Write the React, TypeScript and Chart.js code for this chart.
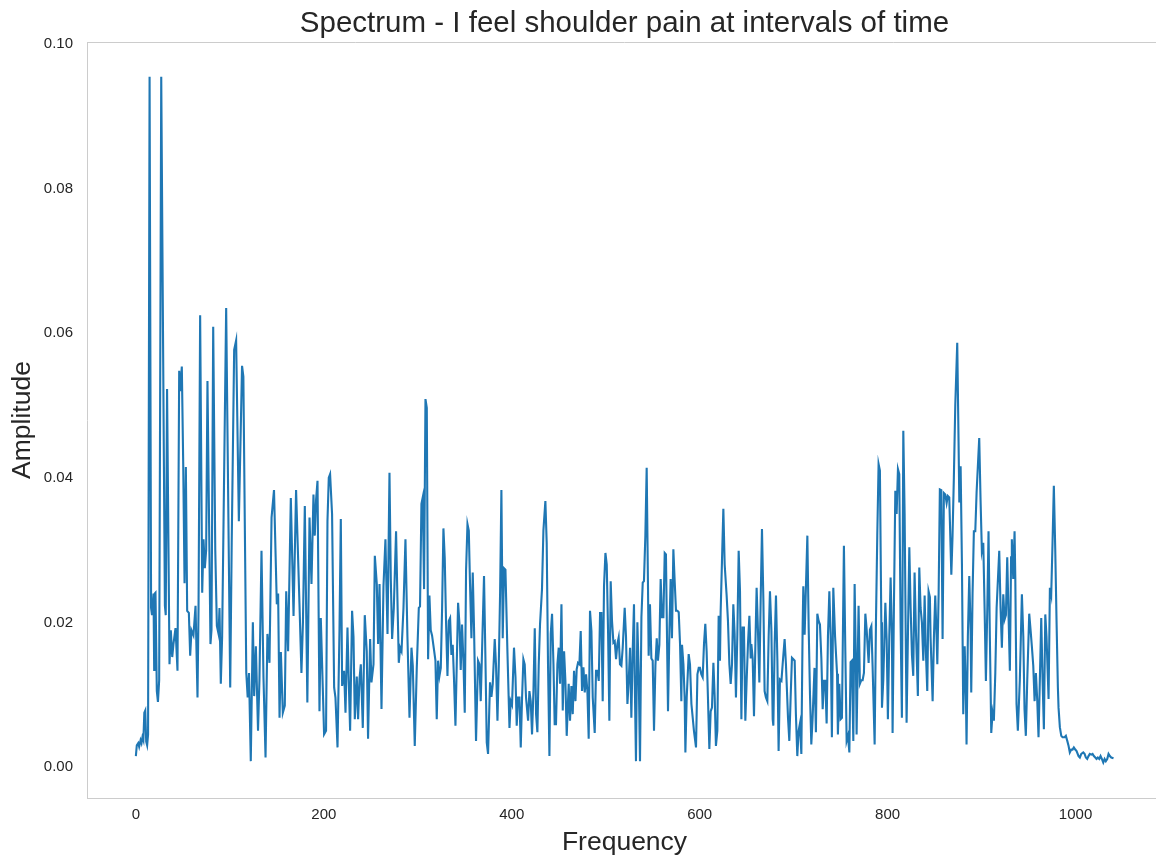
import React, { useEffect, useRef } from "react";
import { Chart, registerables } from "chart.js";

Chart.register(...registerables);

const chartTitle = "Spectrum - I feel shoulder pain at intervals of time";
const xAxisLabel = "Frequency";
const yAxisLabel = "Amplitude";
const xTickValues = [0, 200, 400, 600, 800, 1000];
const yTickValues = [0, 0.02, 0.04, 0.06, 0.08, 0.1];

// Frequency bins of the spectrum
const freq = [
  0, 1, 2.5, 3.5, 5, 6, 7, 8, 9, 10,
  11, 12, 13, 14.6, 16.2, 17.2, 18.8, 19.5, 20.2, 20.9,
  22.3, 23.5, 24.8, 27, 30.9, 31.8, 33.2, 35.8, 37.2, 38.7,
  40, 42.2, 44.3, 46.1, 47.2, 48.9, 50.4, 51.8, 53.2, 54.6,
  56.4, 57.8, 59.2, 61.3, 63.5, 65.6, 66.7, 68.4, 70.6, 72,
  73.4, 74.8, 76.2, 79.4, 80.5, 82.3, 84.5, 86.2, 88, 89,
  90.4, 91.8, 96.1, 100.4, 102, 104.6, 106.7, 109.6, 113, 114.4,
  117.5, 119, 120.4, 122.3,
  124.5, 125.9, 127.7, 130, 131.5, 133.7, 135.8, 138, 140, 142.2,
  144.4, 147, 150, 151.4, 152.9, 154.3, 156.4, 158.5, 160, 162,
  164.9, 167.8, 170.5, 174.1, 176.2, 177.8, 179.8, 182.5,
  184.8, 186.9, 189, 190.4, 191.8, 193.3, 195.4, 196.8, 198.9, 200.3,
  202.4, 203.9, 205.3, 206.7, 208.8, 211, 212.4, 214.6, 216.7, 218.1,
  219.5, 221.6, 223.1, 225.2, 226.6, 228, 230.1, 231.6, 233, 235.1,
  236.5, 238, 239.4, 241.5, 243.6, 245.7, 247.1, 249.3, 250.7, 252.9,
  254.3, 256.4, 257.8, 259.3, 261.4, 263.5, 265.6, 267.8, 269.9, 271.3,
  272.7, 274.5,
  276.9, 278.4, 279.8, 281.2, 282.7, 284.8, 286.9, 289, 291.2, 293.3,
  294.7, 296.8, 298.9, 301.1, 302.4, 303.9, 305.3, 306.7, 308.2, 309.6,
  311, 312.4, 313.8, 315.2, 317.4, 318.8, 320.2, 321.6, 323.1, 324.5,
  325.9, 327.3, 328.7, 330.1, 331.6, 333, 334.4, 335.8, 337.2, 338.6,
  340.1, 341.5, 342.9, 344.4, 345.7, 347.1, 348.6, 350, 351.4, 352.9,
  354.3, 355.6, 357.1, 358.5, 359.9, 362, 364.1, 365.6, 367, 368.8,
  370.5, 372, 373.4, 374.8, 376.9, 378.4, 379.8, 381.9, 383.3, 384.8,
  386.2, 387.6, 389, 390.4, 391.8, 393.3, 395.4, 397.6, 398.9, 400.3,
  402.4, 404, 405.3, 406.7, 408.2, 409.6, 411, 412.4, 413.8, 415.2,
  417.4, 418.8, 420.2, 421.6, 423.1, 424.5, 425.9, 427.3, 428.7, 430.1,
  432.2, 433.7, 435.8, 437.2, 438.6, 440.1, 441.5, 442.9, 444.4, 445.7,
  447.1, 448.6, 450, 451.4, 452.9, 454.3, 455.7, 457.1, 458.5,
  460.6, 462, 463.5, 464.9, 466.3, 467.8, 469.1, 470.5, 472, 473.4,
  474.8, 476.3, 477.7, 479.1, 480.5, 481.9, 483.3, 484.8, 486.2, 488.3,
  489.7, 491.2, 492.6, 494, 495.4, 496.8, 498.2, 499.7, 501.1, 502.5,
  503.9, 505.3, 506.7, 508.2, 509.6, 511, 512.4, 513.8, 515.2, 516.7,
  518.1, 520.2, 521.6, 523.1, 524.5, 525.9, 527.3, 528.7, 530.1, 530.9,
  532.2, 533.7, 535.1, 536.5, 538, 539.4, 540.7, 542.2, 543.6, 545,
  545.7, 547.1, 548.6, 550, 551.4, 552.9, 554.3,
  555.6, 557.1, 558.5, 559.9, 561.4, 562.8, 564.1, 565.6, 566.3, 567.8,
  569.1, 570.5, 572, 573.4, 574.8, 576.3, 577.7, 579.1, 580.5, 581.2,
  582.7, 584, 584.8, 586.2, 588.3, 589.7, 591.2, 592.6, 593.9, 596.1,
  597.6, 599, 600.3, 601.8, 603.2, 604.6, 606, 607.4, 608.8, 610.3,
  611.7, 613.1, 614.6, 616, 617.3, 618.8, 620.2, 621.6, 622.3, 623.7,
  625.2, 626.6, 628.7, 630.1, 631.6, 633, 634.4, 635.8, 637.2, 638.6,
  640.1, 641.5, 642.9, 644.4, 645.7, 647.1, 648.6,
  650, 651.4, 652.9, 654.3, 655, 656.4, 657.8, 659.3, 660.6, 662,
  663.5, 664.9, 666.3, 667.8, 669.1, 670.5, 672, 673.4, 674.8, 676.3,
  677.7, 678.4, 679.8, 681.2, 682.7, 684, 685.4, 687, 688.3, 690.4,
  691.8, 694, 695.4, 696.8, 698.2, 699.7, 701.1, 702.4, 703.9, 705.3,
  706.7, 708.2, 709.6, 710.3, 711.7, 713.1, 714.6, 716, 717.4, 718.8,
  720.2, 722.2, 723.7, 725.2, 726.6, 728, 729.5, 730.9, 732.2, 733.7,
  735.1, 736.5, 738, 739.4, 740.7, 742.2,
  744.1, 746.2, 747.1, 748.6, 750, 751.4, 753.5, 755, 756.4, 757.8,
  759.3, 760.6, 762, 763.5, 764.9, 766.3, 767, 769.1, 770.5, 772,
  773.4, 774.8, 776.3, 777.7, 779.8, 781.2, 782.7, 784, 786.2, 787.6,
  789, 790.4, 791.8, 793.3, 794, 795.4, 797.6, 799, 800.3, 801.8,
  803.2, 804.6, 805.3, 806.7, 808.2, 809.6, 811, 812.4, 813.8, 815.2,
  816.7, 818.1, 819.5, 820.2, 821.6, 823.1, 824.5, 825.9, 827.3, 828.7,
  830.1, 832.2, 833.7, 835.1,
  836.5, 838, 839.4, 840.7, 842.2, 843.6, 845, 845.7, 847.9, 849.3,
  850.7, 852.1, 852.9, 854.3, 855.6, 857.1, 858.5, 859.9, 861.4, 862.8,
  864.1, 865.6, 867.8, 869.1, 870.5, 872, 874.1, 875.5, 876.3, 877.7,
  879.1, 880.5, 882, 883.3, 884, 885.4, 886.9, 888.3, 889, 890.4,
  891.8, 893.3, 894.7, 897.5, 898.9, 900.3, 901.8, 903.2, 904.6, 906.1,
  907.4, 908.8, 910.3, 911.7, 913.1, 914.6, 916, 918.8, 920.2, 921.6,
  923.1, 924.5, 925.9, 927.3, 928.7,
  930.1, 931.4, 932.2, 933.7, 935.1, 935.9, 937.2, 938.6, 940.7, 942.9,
  944.4, 945.7, 947.1, 948.6, 950.7, 952.1, 953.5, 955, 956.4, 957.8,
  959.3, 960.6, 962, 963.5, 964.9, 966.3, 967.8, 969.1, 971.3, 972.7,
  974.1, 975.5, 976.9, 978.4, 979.8, 981.2, 981.9, 983.3, 984.8, 986.2,
  988.3, 989.7, 991.2, 992.6, 993.9, 995.4, 996.8, 998.2, 999.7, 1001.1,
  1003.2, 1004.6, 1006.1, 1008.2, 1009.6, 1011, 1012.4, 1013.8, 1015.2, 1016.7,
  1018.1, 1019.5, 1021, 1022.3, 1023.7, 1025.2, 1026.6, 1028, 1029.5, 1030.9,
  1032.2, 1033.7, 1035.1, 1036.5, 1038, 1040.4,
];

// Spectral amplitude at each frequency bin
const amp = [
  0.0015, 0.003, 0.0033, 0.0028, 0.0037, 0.0033, 0.0041, 0.0037, 0.0075, 0.0078,
  0.0035, 0.003, 0.0045, 0.0955, 0.022, 0.021, 0.024, 0.0134, 0.024, 0.0241,
  0.0105, 0.009, 0.012, 0.0955, 0.0223, 0.021, 0.0523, 0.0142, 0.0189, 0.0152,
  0.017, 0.0192, 0.0133, 0.0548, 0.052, 0.0554, 0.0418, 0.0254, 0.0415, 0.0216,
  0.0213, 0.0154, 0.0189, 0.0182, 0.0223, 0.0096, 0.022, 0.0625, 0.0241, 0.0315,
  0.0275, 0.03, 0.0534, 0.017, 0.019, 0.0609, 0.03, 0.0195, 0.0184, 0.022,
  0.0115, 0.018, 0.0635, 0.011, 0.031, 0.0577, 0.059, 0.034, 0.0555, 0.054,
  0.013, 0.0096, 0.013, 0.0008,
  0.02, 0.0098, 0.0167, 0.005, 0.012, 0.0299, 0.0124, 0.0013, 0.0184, 0.0144,
  0.0345, 0.0383, 0.0225, 0.024, 0.0068, 0.0159, 0.0075, 0.0085, 0.0243, 0.016,
  0.0372, 0.0209, 0.0383, 0.0226, 0.013, 0.02, 0.0361, 0.0089,
  0.0345, 0.0253, 0.0377, 0.032, 0.037, 0.0396, 0.0077, 0.0206, 0.011, 0.0045,
  0.005, 0.034, 0.04, 0.0405, 0.035, 0.011, 0.0096, 0.0027, 0.019, 0.0343,
  0.0112, 0.0133, 0.0075, 0.0193, 0.0117, 0.005, 0.0216, 0.018, 0.0066, 0.0125,
  0.0066, 0.0122, 0.0142, 0.0054, 0.021, 0.016, 0.0039, 0.0177, 0.0117, 0.0142,
  0.0292, 0.0253, 0.017, 0.0253, 0.008, 0.025, 0.0315, 0.0184, 0.0407, 0.026,
  0.0177, 0.022,
  0.0326, 0.023, 0.0144, 0.0165, 0.016, 0.022, 0.0315, 0.018, 0.0068, 0.0165,
  0.014, 0.0029, 0.0135, 0.022, 0.0222, 0.0364, 0.0373, 0.0246, 0.0509, 0.0497,
  0.0149, 0.0237, 0.0189, 0.0182, 0.0161, 0.0147, 0.0066, 0.0147, 0.0126, 0.0137,
  0.022, 0.033, 0.0289, 0.02, 0.0126, 0.0202, 0.0206, 0.0155, 0.0169, 0.012,
  0.0057, 0.0143, 0.0227, 0.0197, 0.0134, 0.0197, 0.0146, 0.0075, 0.0272, 0.0336,
  0.0327, 0.0253, 0.0178, 0.0269, 0.019, 0.0036, 0.0147, 0.0142, 0.0091, 0.018,
  0.0264, 0.015, 0.0034, 0.0018, 0.0117, 0.0097, 0.0115, 0.0177, 0.014, 0.0064,
  0.014, 0.024, 0.0383, 0.0178, 0.0275, 0.0273, 0.016, 0.0054, 0.0091, 0.0086,
  0.0165, 0.0124, 0.0057, 0.0096, 0.0096, 0.0027, 0.0096, 0.0149, 0.0142, 0.0096,
  0.0064, 0.0105, 0.0091, 0.0045, 0.0105, 0.0192, 0.0073, 0.0048, 0.014, 0.0197,
  0.0246, 0.0327, 0.0368, 0.031, 0.0143, 0.0015, 0.0184, 0.0212, 0.0142, 0.0059,
  0.0059, 0.0142, 0.0165, 0.0115, 0.0225, 0.0078, 0.016, 0.0119, 0.0043,
  0.0115, 0.0064, 0.0112, 0.0073, 0.0133, 0.0091, 0.0135, 0.0144, 0.0142, 0.0188,
  0.0105, 0.0138, 0.0103, 0.0128, 0.0105, 0.0039, 0.0216, 0.0188, 0.0096, 0.0047,
  0.0133, 0.0133, 0.0119, 0.0213, 0.0213, 0.0091, 0.025, 0.0296, 0.028, 0.0188,
  0.0064, 0.0257, 0.0202, 0.0172, 0.0174, 0.0149, 0.017, 0.0179, 0.0142, 0.014,
  0.0165, 0.022, 0.018, 0.0087, 0.0119, 0.0165, 0.0068, 0.016, 0.0225, 0.012,
  0.0008, 0.02, 0.013, 0.0008, 0.0207, 0.0255, 0.0257, 0.032, 0.0414, 0.025,
  0.0154, 0.0225, 0.015, 0.0147, 0.005, 0.014, 0.0178,
  0.0147, 0.0169, 0.026, 0.0207, 0.0207, 0.0296, 0.0294, 0.0144, 0.0077, 0.0188,
  0.026, 0.0178, 0.0301, 0.0257, 0.0216, 0.0216, 0.0214, 0.017, 0.0091, 0.0169,
  0.0142, 0.0096, 0.002, 0.0096, 0.0156, 0.0142, 0.0087, 0.0068, 0.005, 0.0027,
  0.0128, 0.0137, 0.0137, 0.0128, 0.0124, 0.017, 0.0198, 0.016, 0.0096, 0.0025,
  0.0077, 0.0082, 0.0144, 0.0096, 0.0029, 0.005, 0.0209, 0.0147, 0.0214, 0.0283,
  0.0357, 0.028, 0.0237, 0.0202, 0.0142, 0.0115, 0.0142, 0.0225, 0.0184, 0.0096,
  0.0184, 0.0299, 0.0244, 0.0066, 0.0193, 0.0193, 0.0064,
  0.012, 0.017, 0.0209, 0.015, 0.017, 0.015, 0.007, 0.017, 0.0248, 0.019,
  0.0117, 0.023, 0.0329, 0.023, 0.0105, 0.0096, 0.0091, 0.018, 0.0243, 0.019,
  0.0066, 0.0057, 0.017, 0.0237, 0.0147, 0.0022, 0.0121, 0.0119, 0.0142, 0.0177,
  0.0142, 0.0068, 0.0036, 0.0096, 0.0151, 0.0149, 0.0147, 0.0073, 0.0015, 0.005,
  0.006, 0.0018, 0.0197, 0.025, 0.0183, 0.025, 0.032, 0.0193, 0.01, 0.0031,
  0.0068, 0.0137, 0.0048, 0.0212, 0.0202, 0.0197, 0.015, 0.008, 0.0119, 0.0119,
  0.006, 0.018, 0.0243, 0.018, 0.0041, 0.0248,
  0.018, 0.0129, 0.0045, 0.0115, 0.0066, 0.0068, 0.0306, 0.016, 0.0036, 0.0043,
  0.002, 0.0145, 0.0147, 0.0036, 0.0253, 0.014, 0.0045, 0.0223, 0.0115, 0.012,
  0.012, 0.013, 0.0212, 0.019, 0.0144, 0.019, 0.0195, 0.014, 0.0031, 0.02,
  0.032, 0.0419, 0.041, 0.02, 0.0082, 0.012, 0.0227, 0.0175, 0.0066, 0.018,
  0.0262, 0.018, 0.0047, 0.022, 0.0382, 0.035, 0.0412, 0.0405, 0.02, 0.0068,
  0.0465, 0.035, 0.015, 0.0061, 0.018, 0.0304, 0.022, 0.0155, 0.0126, 0.0269,
  0.019, 0.0098, 0.0276, 0.022,
  0.02, 0.0147, 0.0237, 0.016, 0.0105, 0.0243, 0.0235, 0.018, 0.0091, 0.018,
  0.0237, 0.018, 0.0142, 0.024, 0.0384, 0.0383, 0.0177, 0.0379, 0.0377, 0.0365,
  0.0375, 0.0373, 0.0266, 0.032, 0.04, 0.05, 0.0587, 0.045, 0.0366, 0.0416,
  0.028, 0.0073, 0.0167, 0.01, 0.0031, 0.018, 0.0264, 0.019, 0.0103, 0.024,
  0.0326, 0.0326, 0.038, 0.0455, 0.037, 0.0299, 0.031, 0.022, 0.0119, 0.022,
  0.0326, 0.018, 0.0047, 0.0075, 0.0064, 0.013, 0.022, 0.0299, 0.022, 0.0165,
  0.0239, 0.0204, 0.021, 0.029, 0.021,
  0.0133, 0.029, 0.0315, 0.026, 0.0326, 0.026, 0.0087, 0.005, 0.012, 0.0239,
  0.018, 0.008, 0.0043, 0.012, 0.0212, 0.019, 0.0167, 0.014, 0.0091, 0.013,
  0.009, 0.0041, 0.012, 0.0206, 0.012, 0.0052, 0.0211, 0.018, 0.0094, 0.0248,
  0.0238, 0.031, 0.0389, 0.03, 0.02, 0.011, 0.0082, 0.0055, 0.0043, 0.0041,
  0.0041, 0.0043, 0.0036, 0.0029, 0.002, 0.0024, 0.0024, 0.0027, 0.0024, 0.0022,
  0.0015, 0.0013, 0.0018, 0.002, 0.0018, 0.0013, 0.0011, 0.0015, 0.0018, 0.0017,
  0.0018, 0.0015, 0.0013, 0.0011, 0.0013, 0.0011, 0.0015, 0.0011, 0.0006, 0.0011,
  0.0008, 0.0011, 0.0018, 0.0015, 0.0013, 0.0012,
];

const FONT = "'Liberation Sans', Arial, sans-serif";
const TEXT_COLOR = "#262626";
const SPINE_COLOR = "#cccccc";
const LINE_COLOR = "#1f77b4";
const TITLE_SIZE = 29.5;
const AXIS_TITLE_SIZE = 26.5;

// Upper frame line of the plot area plus the title centred over the axes.
const frameAndTitle = {
  id: "frameAndTitle",
  afterDraw(chart: any) {
    const { ctx, chartArea } = chart;
    ctx.save();
    ctx.strokeStyle = SPINE_COLOR;
    ctx.lineWidth = 1;
    ctx.beginPath();
    const y = Math.round(chartArea.top) + 0.5;
    ctx.moveTo(chartArea.left, y);
    ctx.lineTo(chartArea.right, y);
    ctx.stroke();

    ctx.fillStyle = TEXT_COLOR;
    ctx.font = `${TITLE_SIZE}px ${FONT}`;
    ctx.textAlign = "center";
    ctx.textBaseline = "alphabetic";
    ctx.fillText(chartTitle, (chartArea.left + chartArea.right) / 2, chartArea.top - 10);
    ctx.restore();
  },
};

export default function App() {
  const canvasRef = useRef<HTMLCanvasElement | null>(null);

  useEffect(() => {
    const canvas = canvasRef.current;
    if (!canvas) return;
    const n = Math.min(freq.length, amp.length);
    const points = [];
    for (let i = 0; i < n; i++) points.push({ x: freq[i], y: amp[i] });

    const chart = new Chart(canvas, {
      type: "line",
      data: {
        datasets: [
          {
            data: points,
            borderColor: LINE_COLOR,
            borderWidth: 2.1,
            pointRadius: 0,
            tension: 0,
            fill: false,
          },
        ],
      },
      options: {
        animation: false,
        responsive: false,
        devicePixelRatio: 1,
        layout: { padding: { left: 0, right: 88, top: 42, bottom: 0 } },
        plugins: {
          legend: { display: false },
          tooltip: { enabled: false },
          title: { display: false },
        },
        scales: {
          x: {
            type: "linear",
            min: -52,
            max: 1092,
            grid: { display: false, drawTicks: false },
            border: { display: true, color: SPINE_COLOR, width: 1 },
            afterBuildTicks: (scale: any) => {
              scale.ticks = xTickValues.map((v) => ({ value: v }));
            },
            afterFit: (scale: any) => {
              scale.height = 59;
            },
            ticks: {
              color: TEXT_COLOR,
              font: { family: FONT, size: 15 },
              padding: 8,
              maxRotation: 0,
              autoSkip: false,
              callback: (v: any) => String(v),
            },
            title: {
              display: true,
              text: xAxisLabel,
              color: TEXT_COLOR,
              font: { family: FONT, size: AXIS_TITLE_SIZE },
              padding: { top: 0, bottom: -2 },
            },
          },
          y: {
            type: "linear",
            min: -0.0043,
            max: 0.1003,
            grid: { display: false, drawTicks: false },
            border: { display: true, color: SPINE_COLOR, width: 1 },
            afterBuildTicks: (scale: any) => {
              scale.ticks = yTickValues.map((v) => ({ value: v }));
            },
            afterFit: (scale: any) => {
              scale.width = 87;
            },
            ticks: {
              color: TEXT_COLOR,
              font: { family: FONT, size: 15 },
              padding: 14,
              autoSkip: false,
              callback: (v: any) => Number(v).toFixed(2),
            },
            title: {
              display: true,
              text: yAxisLabel,
              color: TEXT_COLOR,
              font: { family: FONT, size: AXIS_TITLE_SIZE },
              padding: { top: 7, bottom: 0 },
            },
          },
        },
      },
      plugins: [frameAndTitle],
    });

    return () => chart.destroy();
  }, []);

  return (
    <div
      style={{
        position: "absolute",
        left: 0,
        top: 0,
        width: 1156,
        height: 857,
        overflow: "hidden",
        background: "#ffffff",
      }}
    >
      <canvas ref={canvasRef} width={1250} height={857} style={{ display: "block" }} />
    </div>
  );
}
